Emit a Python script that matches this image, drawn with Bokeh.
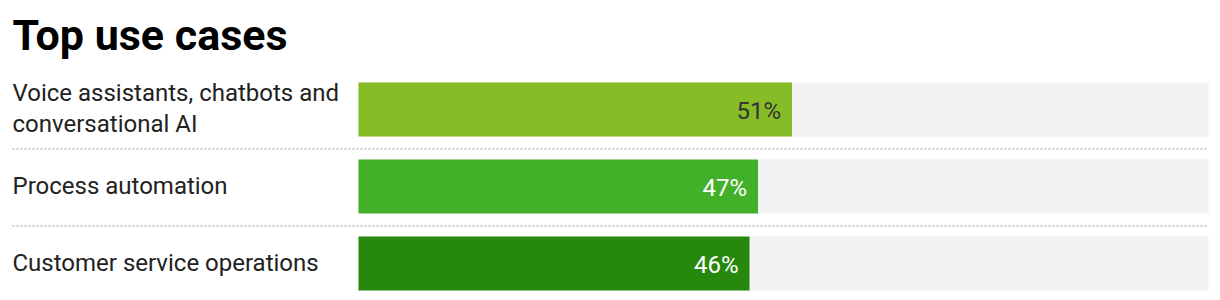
from bokeh.plotting import figure
from bokeh.models import ColumnDataSource, Range1d, Label
from bokeh.core.properties import value
from bokeh.embed import file_html
from bokeh.resources import INLINE

title = "Top use cases"
categories = ["Voice assistants, chatbots and\nconversational AI",
              "Process automation",
              "Customer service operations"]
values = [51, 47, 46]
labels = ["51%", "47%", "46%"]
colors = ["#86BC25", "#43B02A", "#26890D"]
label_colors = ["#333333", "#ffffff", "#ffffff"]
full = [100, 100, 100]

W, H = 1220, 300
left_px, right_px = 358, 1208
px_per = (right_px - left_px) / 100.0
pitch = 77.0
first_c = 109.0

rows = list(range(len(categories)))
src = ColumnDataSource(dict(y=rows, v=values, full=full, cat=categories,
                            lab=labels, col=colors, lcol=label_colors))

p = figure(width=W, height=H, output_backend="svg", toolbar_location=None,
           x_range=Range1d(-left_px / px_per, (W - left_px) / px_per),
           y_range=Range1d((H - first_c) / pitch, -first_c / pitch),
           min_border=0, outline_line_color=None)
p.axis.visible = False
p.grid.visible = False
p.background_fill_color = "white"
p.border_fill_color = "white"

bh = 54 / pitch
p.hbar(y="y", left=0, right="full", height=bh, source=src,
       fill_color="#F2F2F2", line_color=None)
p.hbar(y="y", left=0, right="v", height=bh, source=src,
       fill_color="col", line_color=None)

# dotted separators
sep_off = 1.0 / pitch
for i in rows[:-1]:
    yy = i + 0.5 + sep_off
    p.line(x=[-left_px / px_per + 12 / px_per, 100], y=[yy, yy],
           line_color="#CCCCCC", line_width=2, line_dash="2 2")

p.text(x=-left_px / px_per, y="y", text="cat", source=src, x_offset=12,
       y_offset=-1,
       text_font=value("Roboto"), text_font_size="24px", text_color="#222222",
       text_baseline="middle", text_align="left", text_line_height=1.12)

p.text(x="v", y="y", text="lab", source=src, x_offset=-11, y_offset=1,
       text_font=value("Roboto"), text_font_size="24px", text_color="lcol",
       text_baseline="middle", text_align="right")

p.add_layout(Label(x=12, y=H - 51 + 17, x_units="screen", y_units="screen",
                   text=title, text_font="Roboto", text_font_size="43px",
                   text_font_style="bold", text_color="#000000",
                   text_baseline="alphabetic"))

open("out.html", "w").write(file_html(p, INLINE))
